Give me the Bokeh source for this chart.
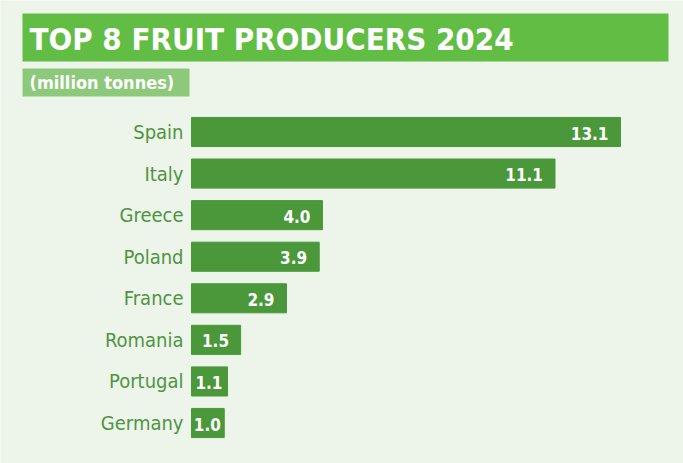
from bokeh.plotting import figure
from bokeh.models import Range1d, ColumnDataSource, BoxAnnotation, Label
from bokeh.embed import file_html
from bokeh.resources import INLINE
from bokeh.core.properties import value

countries = ["Spain", "Italy", "Greece", "Poland", "France", "Romania", "Portugal", "Germany"]
values = [13.1, 11.1, 4.0, 3.9, 2.9, 1.5, 1.1, 1.0]
title_text = "TOP 8 FRUIT PRODUCERS 2024"
subtitle_text = "(million tonnes)"

W, H = 683, 463
BG = "#EDF4EA"
BAR = "#4A983A"
LABEL = "#4F9442"
FONT = "DejaVu Sans Condensed"

x0_px, xmax_px = 191, 620
k = (xmax_px - x0_px) / values[0]
y_first, y_last = 131.5, 422.5
dy = (y_last - y_first) / (len(countries) - 1)

x_range = Range1d(-x0_px / k, (W - x0_px) / k)
y_range = Range1d((H - y_first) / dy, -y_first / dy)

def px2x(px):
    return (px - x0_px) / k

def px2y(py):
    return (py - y_first) / dy

p = figure(width=W, height=H, x_range=x_range, y_range=y_range,
           output_backend="svg", toolbar_location=None,
           min_border=0, min_border_left=0, min_border_right=0,
           min_border_top=0, min_border_bottom=0)
p.axis.visible = False
p.grid.visible = False
p.outline_line_color = None
p.background_fill_color = BG
p.border_fill_color = BG

ypos = list(range(len(countries)))
offsets = [-min(12, max(3, (v * k - 26) / 2)) for v in values]
src = ColumnDataSource(dict(y=ypos, v=values, c=countries,
                            lab=[f"{v:.1f}" for v in values], off=offsets))

p.hbar(y="y", left=0, right="v", height=0.70, source=src, color=BAR)

p.text(x=0, y="y", text="c", source=src, x_offset=-8, text_align="right",
       text_baseline="middle", text_color=LABEL, text_font_size="20px",
       text_font=value(FONT))

p.text(x="v", y="y", text="lab", source=src, x_offset="off", y_offset=1,
       text_align="right", text_baseline="middle", text_color="white",
       text_font_size="17px", text_font_style="bold",
       text_font=value(FONT))

p.add_layout(BoxAnnotation(left=px2x(22), right=px2x(668), top=px2y(13), bottom=px2y(61),
                           fill_color="#62BD45", fill_alpha=1, line_color=None, level="underlay"))
p.add_layout(BoxAnnotation(left=px2x(22), right=px2x(189), top=px2y(68), bottom=px2y(96),
                           fill_color="#8DC97A", fill_alpha=1, line_color=None, level="underlay"))

p.add_layout(Label(x=px2x(29), y=px2y(38), text=title_text, text_color="white",
                   text_font=FONT, text_font_style="bold",
                   text_font_size="31px", text_baseline="middle", text_align="left"))
p.add_layout(Label(x=px2x(29), y=px2y(82), text=subtitle_text, text_color="white",
                   text_font=FONT, text_font_style="bold",
                   text_font_size="18px", text_baseline="middle", text_align="left"))

open("out.html", "w").write(file_html(p, INLINE))
